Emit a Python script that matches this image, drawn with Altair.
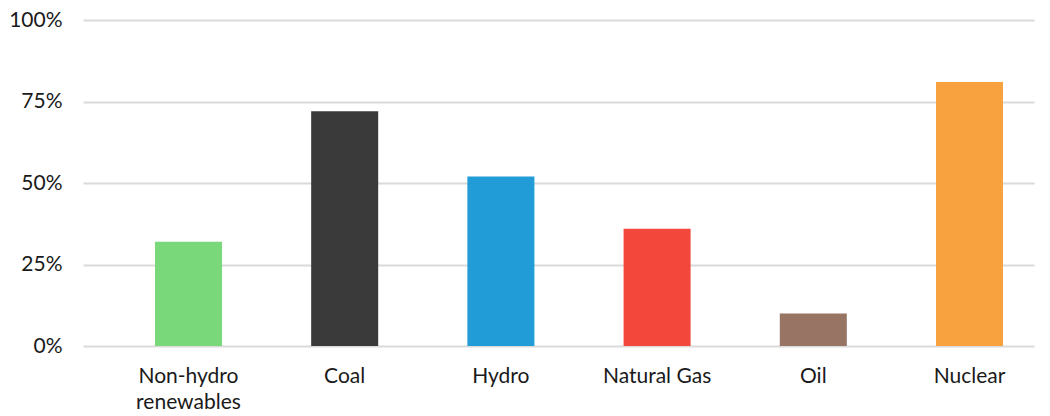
import altair as alt
import pandas as pd

categories = ["Non-hydro renewables", "Coal", "Hydro", "Natural Gas", "Oil", "Nuclear"]
values = [0.32, 0.72, 0.52, 0.36, 0.10, 0.81]
colors = ["#79d879", "#3b3a3b", "#229cd6", "#f4473b", "#977463", "#f7a13f"]
y_ticks = [0, 0.25, 0.5, 0.75, 1.0]

df = pd.DataFrame({"category": categories, "value": values})

FONT = "Lato"

chart = alt.Chart(df).mark_bar().encode(
    x=alt.X(
        "category:N",
        sort=categories,
        title=None,
        scale=alt.Scale(paddingInner=0.571, paddingOuter=0.3296, align=0.699, round=False),
        axis=alt.Axis(
            labelAngle=0,
            labelFont=FONT,
            labelFontSize=21,
            labelColor="#1a1a1a",
            labelPadding=19,
            labelLineHeight=26,
            labelBaseline="top",
            ticks=False,
            domain=False,
            grid=False,
            labelExpr="datum.label == 'Non-hydro renewables' ? ['Non-hydro', 'renewables'] : datum.label",
        ),
    ),
    y=alt.Y(
        "value:Q",
        title=None,
        scale=alt.Scale(domain=[0, 1], nice=False),
        axis=alt.Axis(
            values=y_ticks,
            format=".0%",
            labelFont=FONT,
            labelFontSize=21,
            labelColor="#1a1a1a",
            labelPadding=21,
            ticks=False,
            domain=False,
            grid=True,
            gridColor="#dadada",
            gridWidth=2,
        ),
    ),
    color=alt.Color(
        "category:N",
        scale=alt.Scale(domain=categories, range=colors),
        legend=None,
    ),
).properties(
    width=951,
    height=326,
    autosize=alt.AutoSizeParams(type="none"),
    padding={"left": 75, "top": 12, "right": 8, "bottom": 70},
).configure_view(stroke=None)

chart.save("out.html", embed_options={"renderer": "svg", "actions": False})
